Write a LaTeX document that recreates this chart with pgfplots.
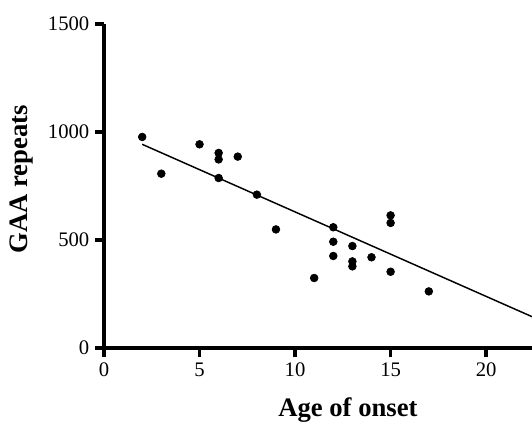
\documentclass[border=0pt]{standalone}
\usepackage{fontspec}
\setmainfont{Liberation Serif}
\usepackage{pgfplots}
\pgfplotsset{compat=1.18}
\begin{document}
\begin{tikzpicture}
\path[use as bounding box] (-78pt,-57pt) rectangle (321pt,261pt);
\begin{axis}[
  at={(0,0)}, anchor=origin,
  scale only axis,
  width=321pt, height=243pt,
  xmin=0, xmax=22.4, ymin=0, ymax=1500,
  axis x line=bottom, axis y line=left,
  axis line style={-, line width=2.6pt},
  xtick={0,5,10,15,20}, ytick={0,500,1000,1500},
  tick align=outside,
  major tick length=6.5pt,
  major tick style={line width=2.6pt, black},
  /pgf/number format/assume math mode=true,
  /pgf/number format/1000 sep={},
  tick label style={font=\fontsize{15.5}{15.5}\selectfont},
  xticklabel style={yshift=-1pt},
  yticklabel style={xshift=-1pt},
  xlabel={\textbf{Age of onset}},
  ylabel={\textbf{GAA repeats}},
  xlabel style={font=\fontsize{20}{20}\selectfont, at={(axis description cs:0.57,0)}, anchor=center, yshift=-46.5pt},
  ylabel style={font=\fontsize{20}{20}\selectfont, at={([xshift=-61.5pt]axis description cs:0,0.52)}, anchor=center},
  clip=true,
]
\addplot[only marks, mark=*, mark size=2.9pt, black, line width=0.5pt] table {
x y
2 977
3 807
5 943
6 903
6 873
6 787
7 886
8 710
9 549
11 324
12 559
12 492
12 426
13 472
13 401
13 378
14 420
15 614
15 579
15 353
17 262
};
\addplot[black, line width=1.1pt] coordinates {(2,943) (22.4,145)};
\end{axis}
\end{tikzpicture}
\end{document}
